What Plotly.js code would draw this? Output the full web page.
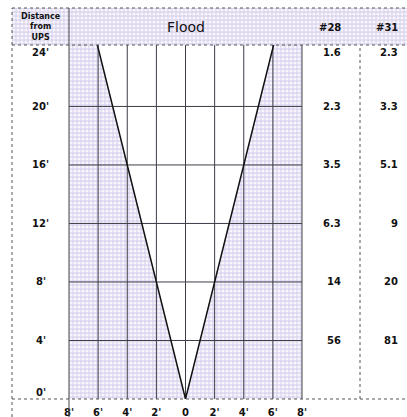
<!DOCTYPE html>
<html>
<head>
<meta charset="utf-8">
<script src="https://cdn.plot.ly/plotly-3.0.1.min.js"></script>
<style>
  html, body { margin: 0; padding: 0; background: #ffffff; }
  #chart { width: 407px; height: 417px; }
</style>
</head>
<body>
<div id="chart"></div>
<script>
// ---- data ----
const distanceTicks = [24, 20, 16, 12, 8, 4, 0];
const distanceLabels = ["24'", "20'", "16'", "12'", "8'", "4'", "0'"];
const tableDistances = [24, 20, 16, 12, 8, 4];
const fuse28 = ["1.6", "2.3", "3.5", "6.3", "14", "56"];
const fuse31 = ["2.3", "3.3", "5.1", "9", "20", "81"];
const widthTickVals = [-8, -6, -4, -2, 0, 2, 4, 6, 8];
const widthTickText = ["8'", "6'", "4'", "2'", "0", "2'", "4'", "6'", "8'"];
const floodDistance = [0, 24.2];
const floodHalfWidth = [0, 6.05];
const gridWidths = [-6, -4, -2, 0, 2, 4, 6];
const gridDistances = [4, 8, 12, 16, 20];
const columnHeaders = ["Flood", "#28", "#31"];
const cornerLabel = "Distance<br>from<br>UPS";

// ---- layout helpers ----
const W = 407, H = 417;
const ML = 12, MT = 8;
const pw = W - ML, ph = H - MT;
const px = v => (v - ML) / pw;
const py = v => (H - v) / ph;
const plotX0 = px(69), plotX1 = px(302), colDiv = px(360);
const plotYb = py(399), plotYt = py(45);
const yMax = floodDistance[floodDistance.length - 1];
const xMin = widthTickVals[0], xMax = widthTickVals[widthTickVals.length - 1];
const topLabel = Math.max(...distanceTicks), bottomLabel = Math.min(...distanceTicks);

const pattern = { shape: '.', bgcolor: '#d9d7f0', fgcolor: '#fbf4fb', size: 4, solidity: 0.5 };
const boldFont = { family: 'DejaVu Sans, Liberation Sans, sans-serif', size: 10, color: '#111', weight: 'bold' };

const traces = [];
// header band
traces.push({
  x: [0, 1, 1, 0, 0], y: [0, 0, 1, 1, 0], xaxis: 'x2', yaxis: 'y2',
  type: 'scatter', mode: 'none', fill: 'toself', fillcolor: '#d9d7f0', fillpattern: pattern, hoverinfo: 'skip'
});
// shaded areas outside the flood zone
const topHalf = floodHalfWidth[floodHalfWidth.length - 1];
traces.push({
  x: [xMin, -topHalf, -floodHalfWidth[0], xMin, xMin], y: [yMax, yMax, floodDistance[0], floodDistance[0], yMax],
  type: 'scatter', mode: 'none', fill: 'toself', fillcolor: '#d9d7f0', fillpattern: pattern, hoverinfo: 'skip'
});
traces.push({
  x: [xMax, topHalf, floodHalfWidth[0], xMax, xMax], y: [yMax, yMax, floodDistance[0], floodDistance[0], yMax],
  type: 'scatter', mode: 'none', fill: 'toself', fillcolor: '#d9d7f0', fillpattern: pattern, hoverinfo: 'skip'
});
// grid
const gx = [], gy = [];
gridWidths.forEach(v => { gx.push(v, v, null); gy.push(0, yMax, null); });
gridDistances.forEach(v => { gx.push(xMin, xMax, null); gy.push(v, v, null); });
traces.push({ x: gx, y: gy, type: 'scatter', mode: 'lines', line: { color: '#3d3d48', width: 1 }, hoverinfo: 'skip' });
// flood boundary V
const vx = [], vy = [];
for (let i = floodDistance.length - 1; i >= 0; i--) { vx.push(-floodHalfWidth[i]); vy.push(floodDistance[i]); }
for (let i = 1; i < floodDistance.length; i++) { vx.push(floodHalfWidth[i]); vy.push(floodDistance[i]); }
traces.push({ x: vx, y: vy, type: 'scatter', mode: 'lines', line: { color: '#111', width: 1.5 }, hoverinfo: 'skip' });

// annotations
const annotations = [];
const edgeShift = d => d === topLabel ? -5 : (d === bottomLabel ? 7 : 0);
distanceTicks.forEach((d, i) => {
  annotations.push({ xref: 'paper', yref: 'y', x: px(40.5), y: d, text: distanceLabels[i], showarrow: false,
    xanchor: 'center', yanchor: 'middle', yshift: edgeShift(d), font: boldFont });
});
tableDistances.forEach((d, i) => {
  annotations.push({ xref: 'paper', yref: 'y', x: px(343), y: d, text: fuse28[i], showarrow: false,
    xanchor: 'right', yanchor: 'middle', yshift: edgeShift(d), font: boldFont });
  annotations.push({ xref: 'paper', yref: 'y', x: px(400), y: d, text: fuse31[i], showarrow: false,
    xanchor: 'right', yanchor: 'middle', yshift: edgeShift(d), font: boldFont });
});
annotations.push({ xref: 'paper', yref: 'paper', x: (plotX0 + plotX1) / 2, y: py(27), text: columnHeaders[0], showarrow: false,
  xanchor: 'center', yanchor: 'middle', font: { family: 'DejaVu Sans, sans-serif', size: 14, color: '#111' } });
annotations.push({ xref: 'paper', yref: 'paper', x: px(343), y: py(27), text: columnHeaders[1], showarrow: false,
  xanchor: 'right', yanchor: 'middle', font: boldFont });
annotations.push({ xref: 'paper', yref: 'paper', x: px(400), y: py(27), text: columnHeaders[2], showarrow: false,
  xanchor: 'right', yanchor: 'middle', font: boldFont });
annotations.push({ xref: 'paper', yref: 'paper', x: px(40.5), y: py(27), text: cornerLabel, showarrow: false,
  xanchor: 'center', yanchor: 'middle', align: 'center',
  font: { family: 'DejaVu Sans, sans-serif', size: 8, color: '#111', weight: 'bold' } });

// frame lines
const ln = { color: '#555', width: 1, dash: 'dot' };
const ln2 = { color: '#444', width: 1 };
const shapes = [
  { type: 'line', xref: 'paper', yref: 'paper', x0: 0, x1: 1, y0: 1, y1: 1, line: ln, layer: 'above' },
  { type: 'line', xref: 'paper', yref: 'paper', x0: 0, x1: 1, y0: plotYt, y1: plotYt, line: ln, layer: 'above' },
  { type: 'line', xref: 'paper', yref: 'paper', x0: 0, x1: 1, y0: plotYb, y1: plotYb, line: ln, layer: 'above' },
  { type: 'line', xref: 'paper', yref: 'paper', x0: 0, x1: 0, y0: 0, y1: 1, line: ln, layer: 'above' },
  { type: 'line', xref: 'paper', yref: 'paper', x0: plotX0, x1: plotX0, y0: 0, y1: 1, line: ln2, layer: 'above' },
  { type: 'line', xref: 'paper', yref: 'paper', x0: plotX1, x1: plotX1, y0: plotYb, y1: plotYt, line: ln2, layer: 'above' },
  { type: 'line', xref: 'paper', yref: 'paper', x0: colDiv, x1: colDiv, y0: plotYb, y1: plotYt, line: ln, layer: 'above' }
];

const layout = {
  width: W, height: H,
  margin: { l: ML, r: 0, t: MT, b: 0, pad: 0, autoexpand: false },
  paper_bgcolor: '#ffffff', plot_bgcolor: 'rgba(0,0,0,0)',
  showlegend: false,
  xaxis: { domain: [plotX0, plotX1], range: [xMin, xMax], tickvals: widthTickVals, ticktext: widthTickText,
    ticks: 'outside', ticklen: 4, tickcolor: 'rgba(0,0,0,0)', showgrid: false, zeroline: false, showline: false,
    tickfont: boldFont, fixedrange: true, automargin: false },
  yaxis: { domain: [plotYb, plotYt], range: [0, yMax], showticklabels: false, ticks: '', showgrid: false,
    zeroline: false, showline: false, fixedrange: true, automargin: false },
  xaxis2: { domain: [0, 1], range: [0, 1], visible: false, anchor: 'y2', fixedrange: true },
  yaxis2: { domain: [plotYt, 1], range: [0, 1], visible: false, anchor: 'x2', fixedrange: true },
  annotations: annotations,
  shapes: shapes
};

Plotly.newPlot('chart', traces, layout, { staticPlot: true, displayModeBar: false });
</script>
</body>
</html>
